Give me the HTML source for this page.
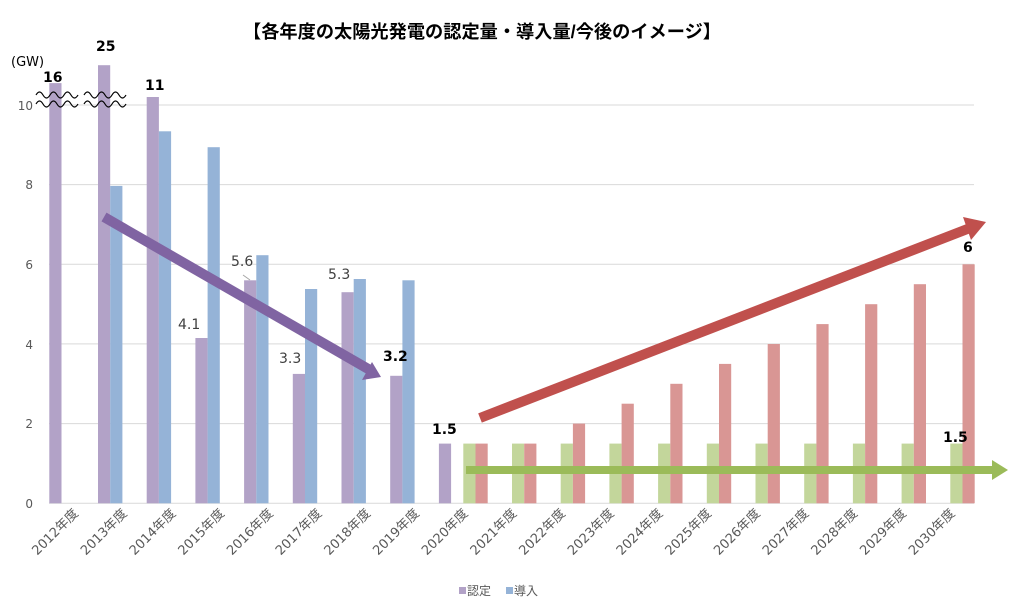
<!DOCTYPE html>
<html><head><meta charset="utf-8"><style>
body{margin:0;background:#fff}
svg{display:block}
text{font-family:"DejaVu Sans","Noto Sans CJK JP",sans-serif}
.t{font-family:"Liberation Sans","Noto Sans CJK JP",sans-serif}
</style></head><body>
<svg width="1016" height="609" viewBox="0 0 1016 609" xmlns="http://www.w3.org/2000/svg">
<rect width="1016" height="609" fill="#fff"/>
<text class="t" x="482" y="38" font-size="18" font-weight="bold" text-anchor="middle" textLength="478" lengthAdjust="spacingAndGlyphs" fill="#000">【各年度の太陽光発電の認定量・導入量/今後のイメージ】</text>
<g stroke="#d9d9d9" stroke-width="1">
<line x1="49" y1="105" x2="974" y2="105"/>
<line x1="49" y1="184.6" x2="974" y2="184.6"/>
<line x1="49" y1="264.2" x2="974" y2="264.2"/>
<line x1="49" y1="343.9" x2="974" y2="343.9"/>
<line x1="49" y1="423.6" x2="974" y2="423.6"/>
<line x1="49" y1="503.3" x2="974" y2="503.3"/>
</g>
<g font-size="12" fill="#595959" text-anchor="end">
<text x="33" y="508">0</text><text x="33" y="428">2</text><text x="33" y="349">4</text><text x="33" y="269">6</text><text x="33" y="189">8</text><text x="33" y="110">10</text>
</g>
<text x="11" y="66" font-size="13" fill="#000">(GW)</text>
<g fill="#b2a2c7">
<rect x="49.3" y="83.1" width="12.2" height="420.2"/>
<rect x="98" y="65.2" width="12.2" height="438.1"/>
<rect x="146.7" y="97" width="12.2" height="406.3"/>
<rect x="195.4" y="338" width="12.2" height="165.3"/>
<rect x="244.1" y="280.3" width="12.2" height="223"/>
<rect x="292.8" y="373.9" width="12.2" height="129.4"/>
<rect x="341.5" y="292.2" width="12.2" height="211.1"/>
<rect x="390.2" y="375.8" width="12.2" height="127.5"/>
<rect x="438.9" y="443.6" width="12.2" height="59.7"/>
</g>
<g fill="#95b3d7">
<rect x="110.2" y="185.9" width="12.2" height="317.4"/>
<rect x="158.9" y="131.3" width="12.2" height="372"/>
<rect x="207.6" y="147.2" width="12.2" height="356.1"/>
<rect x="256.3" y="255.2" width="12.2" height="248.1"/>
<rect x="305" y="289" width="12.2" height="214.3"/>
<rect x="353.7" y="279" width="12.2" height="224.3"/>
<rect x="402.4" y="280.3" width="12.2" height="223"/>
</g>
<g fill="#c3d69b">
<rect x="463.3" y="443.6" width="12.2" height="59.7"/>
<rect x="512" y="443.6" width="12.2" height="59.7"/>
<rect x="560.7" y="443.6" width="12.2" height="59.7"/>
<rect x="609.4" y="443.6" width="12.2" height="59.7"/>
<rect x="658.1" y="443.6" width="12.2" height="59.7"/>
<rect x="706.8" y="443.6" width="12.2" height="59.7"/>
<rect x="755.5" y="443.6" width="12.2" height="59.7"/>
<rect x="804.2" y="443.6" width="12.2" height="59.7"/>
<rect x="852.9" y="443.6" width="12.2" height="59.7"/>
<rect x="901.6" y="443.6" width="12.2" height="59.7"/>
<rect x="950.3" y="443.6" width="12.2" height="59.7"/>
</g>
<g fill="#d99694">
<rect x="475.5" y="443.6" width="12.2" height="59.7"/>
<rect x="524.2" y="443.6" width="12.2" height="59.7"/>
<rect x="572.9" y="423.6" width="12.2" height="79.7"/>
<rect x="621.6" y="403.7" width="12.2" height="99.6"/>
<rect x="670.3" y="383.8" width="12.2" height="119.5"/>
<rect x="719" y="363.9" width="12.2" height="139.4"/>
<rect x="767.7" y="344" width="12.2" height="159.3"/>
<rect x="816.4" y="324.1" width="12.2" height="179.2"/>
<rect x="865.1" y="304.2" width="12.2" height="199.1"/>
<rect x="913.8" y="284.2" width="12.2" height="219.1"/>
<rect x="962.5" y="264.3" width="12.2" height="239"/>
</g>
<g fill="none" stroke="#000" stroke-width="1.2">
<path d="M36 95 q3.5 -6 7 0 t7 0 t7 0 t7 0 t7 0 t7 0"/>
<path d="M36 104 q3.5 -6 7 0 t7 0 t7 0 t7 0 t7 0 t7 0"/>
<path d="M84 95 q3.5 -6 7 0 t7 0 t7 0 t7 0 t7 0 t7 0"/>
<path d="M84 104 q3.5 -6 7 0 t7 0 t7 0 t7 0 t7 0 t7 0"/>
</g>
<line x1="104" y1="217" x2="370" y2="370" stroke="#8064a2" stroke-width="10"/>
<polygon points="381,377 362,380 372,362" fill="#8064a2"/>
<line x1="480" y1="418" x2="970" y2="228" stroke="#c0504d" stroke-width="10"/>
<polygon points="986,222 963,217 971,240" fill="#c0504d"/>
<line x1="466" y1="470" x2="995" y2="470" stroke="#9bbb59" stroke-width="8"/>
<polygon points="1008,470 992,460 992,480" fill="#9bbb59"/>
<g font-size="14" font-weight="bold" fill="#000">
<text x="43" y="82">16</text><text x="96" y="51">25</text><text x="145" y="90">11</text>
<text x="383" y="361">3.2</text><text x="432" y="434">1.5</text><text x="943" y="442">1.5</text><text x="963" y="252">6</text>
</g>
<g font-size="14" fill="#404040">
<text x="178" y="329">4.1</text><text x="231" y="266">5.6</text><text x="279" y="363">3.3</text><text x="328" y="279">5.3</text>
</g>
<line x1="243" y1="275" x2="250" y2="280" stroke="#a6a6a6" stroke-width="1"/>
<g font-size="13" fill="#595959" text-anchor="end">
<text transform="translate(79,514) rotate(-45)">2012年度</text>
<text transform="translate(127.7,514) rotate(-45)">2013年度</text>
<text transform="translate(176.4,514) rotate(-45)">2014年度</text>
<text transform="translate(225.1,514) rotate(-45)">2015年度</text>
<text transform="translate(273.8,514) rotate(-45)">2016年度</text>
<text transform="translate(322.5,514) rotate(-45)">2017年度</text>
<text transform="translate(371.2,514) rotate(-45)">2018年度</text>
<text transform="translate(419.9,514) rotate(-45)">2019年度</text>
<text transform="translate(468.6,514) rotate(-45)">2020年度</text>
<text transform="translate(517.3,514) rotate(-45)">2021年度</text>
<text transform="translate(566,514) rotate(-45)">2022年度</text>
<text transform="translate(614.7,514) rotate(-45)">2023年度</text>
<text transform="translate(663.4,514) rotate(-45)">2024年度</text>
<text transform="translate(712.1,514) rotate(-45)">2025年度</text>
<text transform="translate(760.8,514) rotate(-45)">2026年度</text>
<text transform="translate(809.5,514) rotate(-45)">2027年度</text>
<text transform="translate(858.2,514) rotate(-45)">2028年度</text>
<text transform="translate(906.9,514) rotate(-45)">2029年度</text>
<text transform="translate(955.6,514) rotate(-45)">2030年度</text>
</g>
<rect x="459" y="587" width="7" height="7" fill="#b2a2c7"/>
<text x="467" y="595" font-size="12" fill="#595959">認定</text>
<rect x="506" y="587" width="7" height="7" fill="#95b3d7"/>
<text x="514" y="595" font-size="12" fill="#595959">導入</text>
</svg>
</body></html>
